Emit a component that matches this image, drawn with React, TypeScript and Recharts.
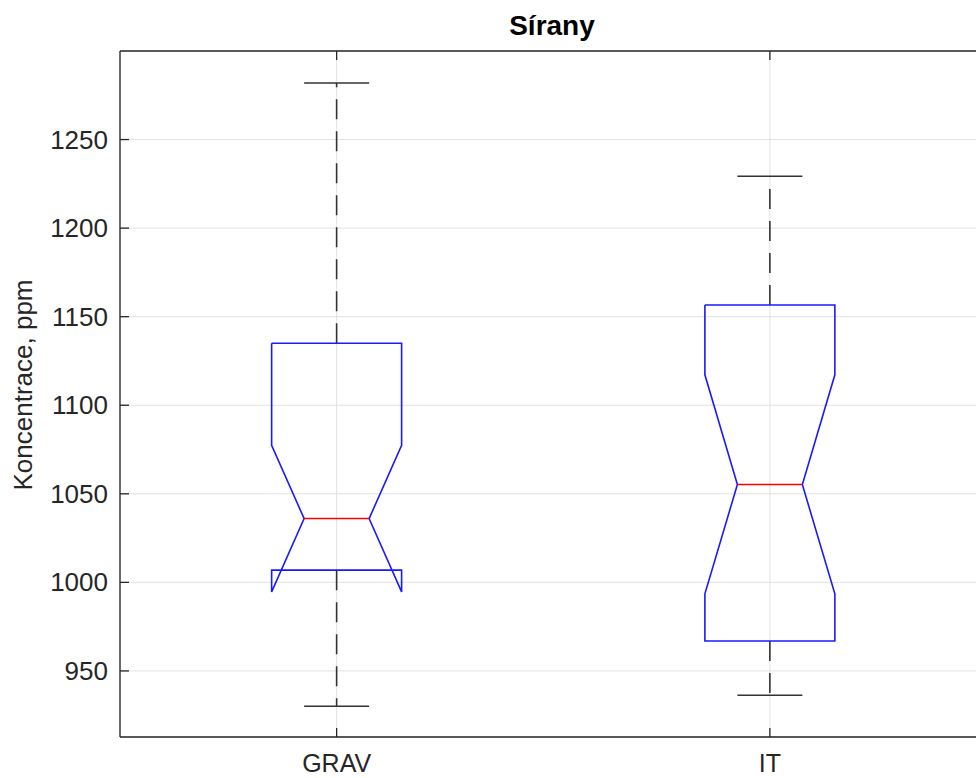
import React from 'react';
import { ComposedChart, Scatter, XAxis, YAxis, CartesianGrid } from 'recharts';

const categories = ['GRAV', 'IT'];
const upperWhisker = [1282, 1229.3];
const q3 = [1135, 1156.6];
const notchHigh = [1077.4, 1117.2];
const median = [1036, 1055.2];
const notchLow = [994.6, 993.5];
const q1 = [1006.9, 966.9];
const lowerWhisker = [930.1, 936.3];
const yTicks = [950, 1000, 1050, 1100, 1150, 1200, 1250];

const BOX_HALF = 0.15;
const NOTCH_HALF = 0.075;

const PLOT_LEFT = 120;
const PLOT_TOP = 51;
const PLOT_BOTTOM = 737;
const TEXT = '#262626';
const FONT = '"Liberation Sans", Arial, Helvetica, sans-serif';

type Pt = { x: number; y: number };

const boxes = categories.map((name, i) => {
  const x = i + 1;
  const outline: Pt[] = [
    { x: x - BOX_HALF, y: q3[i] },
    { x: x + BOX_HALF, y: q3[i] },
    { x: x + BOX_HALF, y: notchHigh[i] },
    { x: x + NOTCH_HALF, y: median[i] },
    { x: x + BOX_HALF, y: notchLow[i] },
    { x: x + BOX_HALF, y: q1[i] },
    { x: x - BOX_HALF, y: q1[i] },
    { x: x - BOX_HALF, y: notchLow[i] },
    { x: x - NOTCH_HALF, y: median[i] },
    { x: x - BOX_HALF, y: notchHigh[i] },
    { x: x - BOX_HALF, y: q3[i] },
  ];
  return {
    name,
    outline,
    upper: [{ x, y: q3[i] }, { x, y: upperWhisker[i] }],
    lower: [{ x, y: q1[i] }, { x, y: lowerWhisker[i] }],
    capHi: [{ x: x - NOTCH_HALF, y: upperWhisker[i] }, { x: x + NOTCH_HALF, y: upperWhisker[i] }],
    capLo: [{ x: x - NOTCH_HALF, y: lowerWhisker[i] }, { x: x + NOTCH_HALF, y: lowerWhisker[i] }],
    med: [{ x: x - NOTCH_HALF, y: median[i] }, { x: x + NOTCH_HALF, y: median[i] }],
  };
});

const noDot = () => <g />;

const BottomTick = (props: any) => {
  const { x, payload } = props;
  return (
    <g>
      <line x1={x} x2={x} y1={PLOT_BOTTOM} y2={PLOT_BOTTOM - 9} stroke={TEXT} strokeWidth={1.3} />
      <text x={x} y={PLOT_BOTTOM + 35} textAnchor="middle" fill={TEXT} fontSize={25} fontFamily={FONT}>
        {categories[payload.value - 1]}
      </text>
    </g>
  );
};

const TopTick = (props: any) => {
  const { x } = props;
  return <line x1={x} x2={x} y1={PLOT_TOP} y2={PLOT_TOP + 9} stroke={TEXT} strokeWidth={1.3} />;
};

const LeftTick = (props: any) => {
  const { y, payload } = props;
  return (
    <g>
      <line x1={PLOT_LEFT} x2={PLOT_LEFT + 9} y1={y} y2={y} stroke={TEXT} strokeWidth={1.3} />
      <text x={PLOT_LEFT - 12} y={y + 9} textAnchor="end" fill={TEXT} fontSize={26} fontFamily={FONT}>
        {payload.value}
      </text>
    </g>
  );
};

export default function App() {
  return (
    <div style={{ position: 'fixed', left: 0, top: 0, width: 976, height: 778, overflow: 'hidden', background: '#fff' }}>
      <ComposedChart width={1000} height={778} margin={{ top: PLOT_TOP - 1, right: 13.5, bottom: 0, left: 0 }}>
        <CartesianGrid stroke="#e2e2e2" strokeWidth={1} />
        <XAxis
          dataKey="x"
          type="number"
          domain={[0.5, 2.5]}
          ticks={[1, 2]}
          allowDataOverflow
          height={41}
          axisLine={{ stroke: TEXT, strokeWidth: 1.3 }}
          tickLine={false}
          tick={<BottomTick />}
        />
        <XAxis
          xAxisId="top"
          orientation="top"
          dataKey="x"
          type="number"
          domain={[0.5, 2.5]}
          ticks={[1, 2]}
          allowDataOverflow
          height={1}
          axisLine={{ stroke: TEXT, strokeWidth: 1.3 }}
          tickLine={false}
          tick={<TopTick />}
        />
        <YAxis
          dataKey="y"
          type="number"
          domain={[912.7, 1300]}
          ticks={yTicks}
          allowDataOverflow
          width={PLOT_LEFT}
          axisLine={{ stroke: TEXT, strokeWidth: 1.3 }}
          tickLine={false}
          tick={<LeftTick />}
        />
        {boxes.map((b) => [
          <Scatter key={b.name + '-up'} data={b.upper} shape={noDot} fill="#333" line={{ stroke: '#333', strokeWidth: 1.6, strokeDasharray: '20 12' }} isAnimationActive={false} />,
          <Scatter key={b.name + '-lo'} data={b.lower} shape={noDot} fill="#333" line={{ stroke: '#333', strokeWidth: 1.6, strokeDasharray: '20 12' }} isAnimationActive={false} />,
          <Scatter key={b.name + '-caphi'} data={b.capHi} shape={noDot} fill="#333" line={{ stroke: '#333', strokeWidth: 1.5 }} isAnimationActive={false} />,
          <Scatter key={b.name + '-caplo'} data={b.capLo} shape={noDot} fill="#333" line={{ stroke: '#333', strokeWidth: 1.5 }} isAnimationActive={false} />,
          <Scatter key={b.name + '-box'} data={b.outline} shape={noDot} fill="#0000ff" line={{ stroke: '#1a1aff', strokeWidth: 1.6 }} isAnimationActive={false} />,
          <Scatter key={b.name + '-med'} data={b.med} shape={noDot} fill="#ff0000" line={{ stroke: '#ff0000', strokeWidth: 1.5 }} isAnimationActive={false} />,
        ])}
      </ComposedChart>
      <svg width={976} height={778} style={{ position: 'absolute', left: 0, top: 0, pointerEvents: 'none' }}>
        <text x={552} y={35} textAnchor="middle" fill="#000" fontSize={28} fontWeight="bold" fontFamily={FONT}>
          Sírany
        </text>
        <text
          x={32}
          y={385}
          transform="rotate(-90 32 385)"
          textAnchor="middle"
          fill={TEXT}
          fontSize={26}
          fontFamily={FONT}
        >
          Koncentrace, ppm
        </text>
      </svg>
    </div>
  );
}
